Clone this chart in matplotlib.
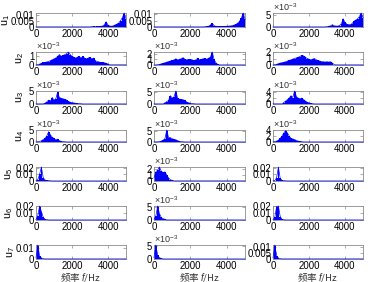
import numpy as np
import matplotlib
matplotlib.use("Agg")
import matplotlib.pyplot as plt

# ---------------- data (amplitudes in units of 1e-3, 100 Hz bins, 0..5000 Hz) ----------------
freq = np.arange(0, 5001, 100)

u1_a = [0.1]*31 + [0.4, 0.5, 0.4, 0.5, 0.5, 0.6, 0.8, 2.0, 4.5, 1.5, 0.8, 0.7, 1.0, 1.8, 2.5, 3.5, 5.5, 8.0, 12.0, 7.0]
u1_b = [0.1]*28 + [0.3, 0.4, 0.6, 1.5, 3.0, 1.0, 0.5, 0.4, 0.4, 0.4, 0.5, 0.5, 0.6, 0.7, 0.8, 1.0, 1.5, 2.0, 3.0, 4.5, 7.0, 11.0, 6.0]
u1_c = [0.05]*30 + [0.2, 0.3, 0.5, 1.0, 0.5, 0.4, 0.4, 0.6, 1.5, 3.5, 2.0, 1.2, 1.0, 1.0, 1.5, 2.5, 3.0, 3.5, 4.5, 6.0, 4.0]

u2_a = [0.0, 0.05, 0.1, 0.2, 0.3, 0.3, 0.35, 0.4, 0.5, 0.6, 0.7, 0.8, 1.0, 1.2, 1.0, 1.1, 1.2, 1.3, 1.5, 1.2,
        1.0, 0.9, 0.8, 0.9, 1.0, 0.8, 1.0, 0.8, 0.7, 0.8, 0.9, 0.7, 0.8, 0.5, 0.4, 0.35, 0.3, 0.3, 0.25, 0.2, 0.1] + [0.02]*10
u2_b = [0.0, 0.02, 0.05, 0.1, 0.2, 0.3, 0.4, 0.5, 0.6, 0.7, 0.8, 0.9, 1.1, 0.9, 1.0, 1.1, 1.3, 1.0, 0.9, 1.0,
        1.0, 0.9, 0.8, 0.9, 1.2, 0.9, 1.0, 1.1, 1.2, 1.0, 1.2, 1.4, 2.3, 1.0, 0.4, 0.1] + [0.02]*15
u2_c = [0.0, 0.05, 0.1, 0.2, 0.3, 0.35, 0.4, 0.5, 0.6, 0.7, 0.8, 0.9, 1.0, 1.1, 1.2, 1.3, 1.5, 1.4, 1.2, 1.0,
        0.9, 0.8, 0.9, 1.0, 0.8, 0.7, 0.6, 0.5, 0.5, 0.45, 0.5, 0.45, 0.5, 0.3, 0.05] + [0.02]*16

u3_a = [0.05]*5 + [0.3, 0.8, 1.5, 1.0, 2.5, 1.5, 2.0, 4.5, 2.5, 2.2, 2.0, 1.8, 1.5, 1.0, 0.7, 0.5, 0.4, 0.3, 0.2, 0.15, 0.1] + [0.03]*25
u3_b = [0.05]*6 + [0.5, 1.0, 1.5, 3.5, 2.5, 3.0, 5.5, 2.5, 2.0, 2.0, 1.8, 1.5, 0.8, 0.5, 0.3, 0.2, 0.1] + [0.03]*28
u3_c = [0.05]*6 + [0.5, 1.0, 1.5, 2.0, 2.8, 2.2, 4.4, 2.5, 2.0, 1.8, 2.0, 1.5, 1.0, 0.6, 0.4, 0.2, 0.1] + [0.03]*28

u4_a = [0.05, 0.1, 0.2, 0.5, 1.0, 1.5, 2.5, 4.3, 3.0, 2.0, 1.5, 1.0, 1.2, 0.5, 0.3, 0.2, 0.1] + [0.03]*34
u4_b = [0.05, 0.05, 0.1, 0.2, 0.4, 0.8, 1.5, 5.5, 2.0, 2.0, 1.5, 1.2, 1.0, 0.6, 0.3, 0.2, 0.1] + [0.03]*34
u4_c = [0.05, 0.1, 0.3, 0.6, 1.2, 2.0, 3.0, 3.8, 3.0, 2.0, 1.2, 1.0, 0.8, 0.5, 0.3, 0.2, 0.1] + [0.03]*34

u5_a = [0.3, 2.0, 10.0, 21.0, 5.0, 1.5, 0.8, 0.5, 0.3] + [0.1]*42
u5_b = [0.5, 1.5, 1.8, 2.3, 1.6, 1.4, 1.5, 1.0, 0.5, 0.2, 0.1] + [0.02]*40
u5_c = [0.2, 0.5, 5.0, 21.0, 4.0, 1.0, 0.5, 0.3] + [0.1]*43

u6_a = [0.5, 6.0, 20.0, 12.0, 4.0, 1.0, 0.5] + [0.1]*44
u6_b = [0.3, 1.5, 5.5, 2.5, 1.0, 0.5, 0.3] + [0.03]*44
u6_c = [0.3, 4.0, 19.0, 20.0, 5.0, 1.0, 0.5] + [0.1]*44

u7_a = [1.0, 13.0, 3.0, 1.0, 0.3] + [0.1]*46
u7_b = [0.5, 5.5, 1.5, 0.5, 0.2] + [0.03]*46
u7_c = [1.0, 12.0, 3.0, 0.8, 0.3] + [0.1]*46

series = [[u1_a, u1_b, u1_c], [u2_a, u2_b, u2_c], [u3_a, u3_b, u3_c], [u4_a, u4_b, u4_c],
          [u5_a, u5_b, u5_c], [u6_a, u6_b, u6_c], [u7_a, u7_b, u7_c]]

# y ticks (units of 1e-3) and whether the panel shows the x10^-3 multiplier
yticks = [[[0, 5, 10], [0, 5, 10], [0, 5]],
          [[0, 1], [0, 1, 2], [0, 1, 2]],
          [[0, 5], [0, 5], [0, 2, 4]],
          [[0, 5], [0, 5], [0, 2, 4]],
          [[0, 10, 20], [0, 1, 2], [0, 10, 20]],
          [[0, 10, 20], [0, 5], [0, 10, 20]],
          [[0, 10], [0, 5], [0, 5, 10]]]
use_exp = [[False, False, True],
           [True, True, True],
           [True, True, True],
           [True, True, True],
           [False, True, False],
           [False, True, False],
           [False, True, False]]
row_labels = ["u$_1$", "u$_2$", "u$_3$", "u$_4$", "u$_5$", "u$_6$", "u$_7$"]
xticks = [0, 2000, 4000]
xlabel_text = "频率 $f$/Hz"

# ---------------- layout ----------------
plt.rcParams['font.family'] = ['Liberation Sans', 'DejaVu Sans']
plt.rcParams['mathtext.fontset'] = 'custom'
plt.rcParams['mathtext.rm'] = 'Liberation Sans'
plt.rcParams['mathtext.it'] = 'Liberation Sans:italic'
W, H = 368, 282
fig = plt.figure(figsize=(W/100, H/100), dpi=100)

col_px = [(36, 126), (154, 245), (273, 363)]
row_px = [(13, 27), (52, 65), (91, 104), (130, 142), (167, 181), (206, 220), (245, 259)]
ylabel_x_px = [12, 26, 26, 26, 15, 15, 17]
fs = 6.9
blue = '#0000ff'
edge = '#8c8c8c'

def fmt(v):
    return f"{v:g}"

for r in range(7):
    for c in range(3):
        x0, x1 = col_px[c]
        y0, y1 = row_px[r]
        ax = fig.add_axes([x0/W, (H - y1)/H, (x1 - x0)/W, (y1 - y0)/H])
        vals = np.array(series[r][c])
        ax.bar(freq, vals, width=100, color=blue, linewidth=0, zorder=2)
        ax.plot(freq, vals, color=blue, lw=0.5, zorder=3, clip_on=False)
        ax.set_xlim(0, 5000)
        ax.set_ylim(0, vals.max())
        ax.set_xticks(xticks)
        ax.set_xticklabels([str(t) for t in xticks])
        yt = yticks[r][c]
        ax.set_yticks(yt)
        if use_exp[r][c]:
            ax.set_yticklabels([fmt(t) for t in yt])
            ax.text(0.0, 1.0, "×10$^{-3}$", transform=ax.transAxes, fontsize=fs-0.4,
                    ha='left', va='bottom', color='#333333')
        else:
            ax.set_yticklabels([fmt(t*1e-3) for t in yt])
        ax.tick_params(direction='in', length=2, width=0.5, color=edge, labelsize=fs, pad=1.2,
                       top=True, right=True)
        for sp in ax.spines.values():
            sp.set_color(edge)
            sp.set_linewidth(0.6)
        if c == 0:
            ax.set_ylabel(row_labels[r], fontsize=fs+0.8)
            ax.yaxis.set_label_coords((ylabel_x_px[r] - x0) / (x1 - x0), 0.5)
        if r == 6:
            fig.text((x0 + x1) / 2 / W, (H - 277) / H, xlabel_text, fontsize=fs,
                     ha='center', va='center', color='#333333',
                     family=['Noto Sans CJK SC', 'Liberation Sans'])

fig.savefig("out.png", dpi=100)
